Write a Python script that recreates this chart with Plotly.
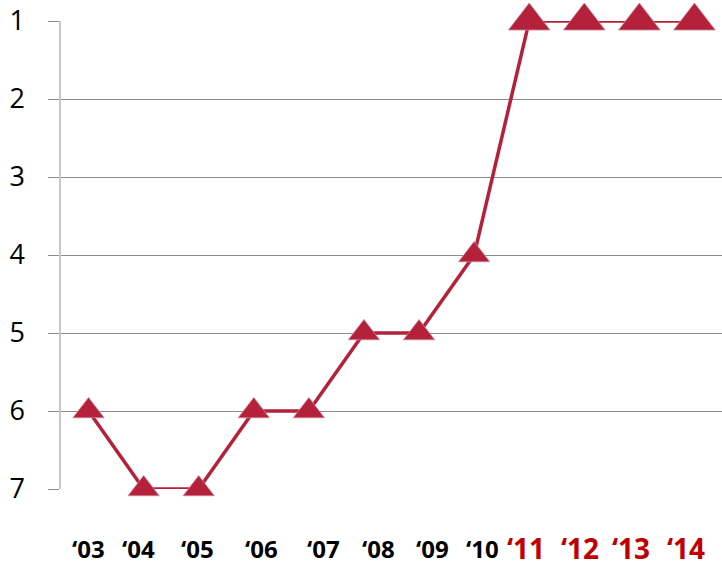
import plotly.graph_objects as go

years = ["‘03", "‘04", "‘05", "‘06", "‘07", "‘08", "‘09", "‘10", "‘11", "‘12", "‘13", "‘14"]
ranks = [6, 7, 7, 6, 6, 5, 5, 4, 1, 1, 1, 1]
highlight = [False] * 8 + [True] * 4

# label horizontal nudges (px), layout only
label_shift = [0, -5, -1, 8, 15, 15, 13, 8, -3, -4, -8, -8]

marker_sizes = [36 if h else 27 for h in highlight]
red = "#B5213A"

fig = go.Figure()
fig.add_trace(go.Scatter(
    x=years, y=ranks, mode="lines+markers",
    line=dict(color=red, width=3.5),
    marker=dict(symbol="triangle-up", size=marker_sizes, color=red, opacity=1,
                line=dict(color="#C98593", width=0.8)),
    cliponaxis=False, showlegend=False,
))

for y, h, s in zip(years, highlight, label_shift):
    fig.add_annotation(
        x=y, xref="x", y=0, yref="paper", yanchor="middle", yshift=-59, xshift=s,
        text=f"<b>{y}</b>", showarrow=False, borderpad=0,
        font=dict(family="Open Sans", size=28 if h else 24,
                  color="#C00000" if h else "black"),
    )

fig.update_layout(
    width=722, height=567,
    margin=dict(l=61, r=0, t=21, b=78),
    paper_bgcolor="white", plot_bgcolor="white",
    font=dict(family="Open Sans", color="black"),
    xaxis=dict(
        type="category", showticklabels=False, automargin=False,
        showgrid=False, zeroline=False, showline=False, ticks="",
        range=[-0.5, 11.5],
    ),
    yaxis=dict(
        range=[7, 1], tickmode="array", tickvals=[1, 2, 3, 4, 5, 6, 7],
        automargin=False, ticklabeloverflow="allow",
        showgrid=True, gridcolor="#8C8C8C", gridwidth=1,
        zeroline=False, showline=True, linecolor="#C8C8C8", linewidth=1.5,
        ticks="outside", ticklen=11, tickcolor="#8C8C8C", tickwidth=1,
        tickfont=dict(size=27, family="Open Sans", color="black"),
        ticklabelstandoff=18,
    ),
)

fig.write_html(
    "out.html",
    config={"displayModeBar": False},
    post_script="document.body.style.margin='0';document.body.style.overflow='hidden';",
)
